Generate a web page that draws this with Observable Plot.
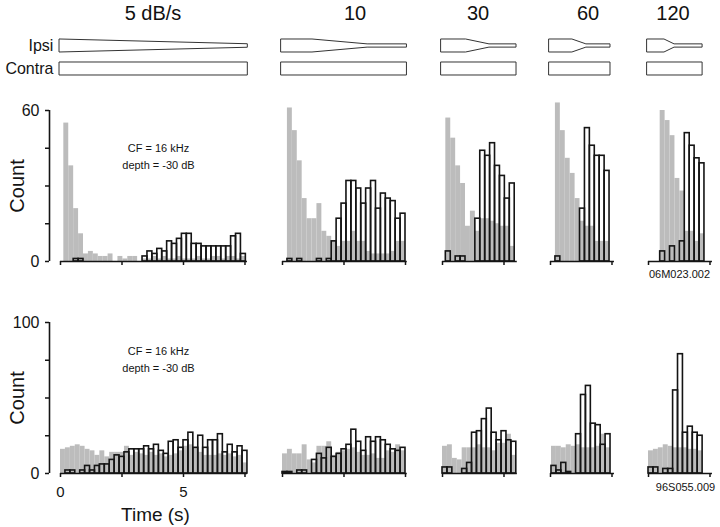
<!DOCTYPE html>
<html>
<head>
<meta charset="utf-8">
<script src="https://cdn.jsdelivr.net/npm/d3@7"></script>
<script src="https://cdn.jsdelivr.net/npm/@observablehq/plot@0.6"></script>
<style>
  html, body { margin: 0; padding: 0; background: #fff; }
  #fig { position: relative; width: 720px; height: 527px; overflow: hidden;
         font-family: "Liberation Sans", Arial, Helvetica, sans-serif; color: #111; }
  #fig > svg { position: absolute; }
  .rate { position: absolute; top: 3px; font-size: 20px; line-height: 20px;
          transform: translateX(-50%); white-space: pre; color: #111; }
</style>
</head>
<body>
<div id="fig"></div>
<script>
// ---------------- data ----------------
const rateLabels = ["5 dB/s", "10", "30", "60", "120"];
const channels = ["Ipsi", "Contra"];
const cfLabel = "CF = 16 kHz\ndepth = -30 dB";
const unitTop = "06M023.002";
const unitBottom = "96S055.009";
const countLabel = "Count";
const timeLabel = "Time (s)";

const binWidth = 0.2;                       // s
const topStart = [0.135, 0.2, 0.135, 0.2, 0.475];
const bottomStart = [0, 0, 0, 0.04, 0];
const axisEnd = [7.6, 5.07, 3.04, 2.6, 2.6];
const timeTicks = [[0, 2.5, 5, 7.5], [0, 2.5, 5], [0, 2.5], [0, 2.5], [0, 2.5]];
const timeTickLabels = [0, 5];
const countTicksTop = [0, 15, 30, 45, 60];
const countTicksBottom = [0, 25, 50, 75, 100];
const countLabelsTop = [0, 60];
const countLabelsBottom = [0, 100];

// top row (unit 06M023.002): grey = filled histogram, open = outlined histogram
const topGray0 = [55, 38, 21, 11, 3, 4, 3, 2, 2, 3, 0, 2, 1, 2, 2, 0, 1, 1, 2, 1, 2, 1, 1, 2, 1, 1, 1, 2, 1, 1, 2, 2, 1, 2, 2, 1, 2];
const topOpen0 = [0, 0, 1, 1, 0, 0, 0, 0, 0, 0, 0, 0, 0, 0, 0, 0, 2, 4, 3, 5, 4, 8, 7, 9, 11, 11, 7, 7, 6, 6, 6, 6, 6, 6, 10, 11, 3];
const topGray1 = [61, 52, 40, 25, 17, 17, 23, 12, 10, 8, 6, 8, 8, 12, 8, 8, 4, 3, 3, 3, 3, 4, 8, 8];
const topOpen1 = [1, 0, 1, 0, 0, 0, 1, 0, 1, 8, 17, 23, 32, 32, 29, 23, 29, 32, 21, 27, 25, 24, 17, 19];
const topGray2 = [57, 49, 38, 31, 14, 20, 12, 17, 17, 16, 15, 14, 14, 6];
const topOpen2 = [4, 0, 2, 2, 0, 0, 17, 44, 42, 47, 38, 34, 25, 31];
const topGray3 = [63, 52, 41, 35, 25, 16, 14, 14, 8, 8, 8];
const topOpen3 = [2, 0, 0, 0, 0, 21, 53, 46, 42, 42, 36];
const topGray4 = [60, 56, 50, 33, 28, 12, 12, 8, 11];
const topOpen4 = [4, 0, 6, 0, 8, 51, 46, 41, 39];

// bottom row (unit 96S055.009)
const bottomGray0 = [16, 17, 18, 19, 18, 16, 15, 12, 15, 11, 14, 14, 14, 18, 12, 14, 13, 12, 14, 12, 13, 11, 12, 13, 15, 18, 19, 17, 14, 12, 12, 12, 13, 12, 13, 11, 12, 7];
const bottomOpen0 = [0, 2, 2, 0, 2, 5, 2, 5, 6, 6, 9, 12, 11, 14, 16, 16, 16, 18, 16, 19, 15, 13, 21, 22, 17, 22, 27, 17, 25, 17, 22, 22, 26, 14, 19, 14, 18, 15];
const bottomGray1 = [13, 16, 13, 13, 19, 9, 7, 18, 18, 21, 12, 14, 15, 16, 17, 14, 12, 12, 13, 10, 10, 15, 14, 19, 15];
const bottomOpen1 = [1, 1, 0, 2, 2, 0, 9, 13, 10, 17, 11, 13, 16, 19, 29, 21, 15, 24, 21, 24, 22, 19, 16, 15, 17];
const bottomGray2 = [18, 19, 10, 9, 17, 17, 17, 19, 17, 17, 15, 20, 20, 26, 12];
const bottomOpen2 = [4, 4, 0, 0, 3, 7, 27, 28, 36, 43, 27, 22, 28, 22, 21];
const bottomGray3 = [18, 18, 17, 19, 18, 19, 17, 17, 17, 18, 26, 17];
const bottomOpen3 = [5, 2, 7, 1, 0, 26, 52, 58, 33, 32, 19, 26];
const bottomGray4 = [15, 16, 17, 19, 18, 17, 17, 17, 16, 16, 15];
const bottomOpen4 = [4, 4, 0, 3, 3, 55, 79, 27, 31, 27, 25];

// stimulus envelopes (time in s, relative amplitude)
const ipsiTimes = [[0, 7.64], [0, 1.26, 3.5, 5.1], [0, 1.0, 1.95, 3.05], [0, 0.93, 1.5, 2.48], [0, 0.69, 1.1, 2.24]];
const ipsiLevels = [[1, 0.27], [1, 1, 0.25, 0.25], [1, 1, 0.25, 0.25], [1, 1, 0.25, 0.25], [1, 1, 0.25, 0.25]];
const contraTimes = [[0, 7.64], [0, 5.1], [0, 3.05], [0, 2.48], [0, 2.24]];
const contraLevels = [[1, 1], [1, 1], [1, 1], [1, 1], [1, 1]];

const topGray = [topGray0, topGray1, topGray2, topGray3, topGray4];
const topOpen = [topOpen0, topOpen1, topOpen2, topOpen3, topOpen4];
const bottomGray = [bottomGray0, bottomGray1, bottomGray2, bottomGray3, bottomGray4];
const bottomOpen = [bottomOpen0, bottomOpen1, bottomOpen2, bottomOpen3, bottomOpen4];

// ---------------- layout ----------------
const FONT = '"Liberation Sans", Arial, Helvetica, sans-serif';
const ink = "#141414";
const grayFill = "#bcbcbc";
const k = 24.6;                                   // px per second
const panelX0 = [60, 281.7, 441.7, 550, 648.3];   // pixel of t = 0
const stimX0 = [59.4, 281, 440.5, 549, 647];
const titleX = [153, 355, 478, 588, 673];

const fig = document.getElementById("fig");

function place(el, left, top) {
  el.style.position = "absolute";
  el.style.left = left + "px";
  el.style.top = top + "px";
  el.style.overflow = "visible";
  el.style.background = "transparent";
  fig.appendChild(el);
}

// titles
rateLabels.forEach((lab, p) => {
  const d = document.createElement("div");
  d.className = "rate";
  d.textContent = lab;
  d.style.left = titleX[p] + "px";
  fig.appendChild(d);
});

// stimulus schematics
function stimPlot(p) {
  const data = [
    ...ipsiTimes[p].map((t, i) => ({channel: "Ipsi", t, a: ipsiLevels[p][i]})),
    ...contraTimes[p].map((t, i) => ({channel: "Contra", t, a: contraLevels[p][i]}))
  ];
  const end = d3.max(data, d => d.t);
  const ml = p === 0 ? stimX0[0] : 6;
  const mr = 6;
  const svg = Plot.plot({
    width: ml + end * k + mr,
    height: 90,
    marginTop: 39, marginBottom: 15, marginLeft: ml, marginRight: mr,
    x: {domain: [0, end], axis: null},
    y: {domain: [-1, 1], axis: null},
    fy: {domain: channels, paddingInner: 0.45, paddingOuter: 0,
         axis: p === 0 ? "left" : null, label: null, tickSize: 0, tickPadding: 6.5},
    facet: {data, y: "channel"},
    style: {fontFamily: FONT, fontSize: "16px", background: "transparent", color: ink},
    marks: [
      Plot.area(data, {x1: "t", y1: d => -d.a, y2: d => d.a, z: "channel",
                       fill: "white", stroke: "#333", strokeWidth: 1})
    ]
  });
  place(svg, stimX0[p] - ml, 0);
}

// histograms
function histPlot(row, p) {
  const isTop = row === 0;
  const ymax = isTop ? 60 : 100;
  const yTicks = isTop ? countTicksTop : countTicksBottom;
  const yLabs = isTop ? countLabelsTop : countLabelsBottom;
  const start = isTop ? topStart[p] : bottomStart[p];
  const toBins = counts => counts.map((c, i) => ({t0: start + i * binWidth, t1: start + (i + 1) * binWidth, c}));
  const grayBins = toBins(isTop ? topGray[p] : bottomGray[p]).filter(d => d.c > 0);
  const openBins = toBins(isTop ? topOpen[p] : bottomOpen[p]).filter(d => d.c > 0);
  const first = p === 0;
  const xmin = first ? -11 / k : 0;
  const ml = first ? 49 : 8;
  const mr = 8;
  const mt = 20, inner = 151, mb = isTop ? 30 : 54;
  const width = ml + (axisEnd[p] - xmin) * k + mr;
  const left = panelX0[p] + xmin * k - ml;
  const top = isTop ? 90 : 302;
  const showX = !isTop && first;

  const marks = [
    Plot.rect(grayBins, {x1: "t0", x2: "t1", y1: 0, y2: "c", fill: grayFill}),
    Plot.rect(openBins, {x1: "t0", x2: "t1", y1: 0, y2: "c", fill: "none", stroke: ink, strokeWidth: 1.6}),
    Plot.ruleY([0], {x1: 0, x2: axisEnd[p], stroke: ink, strokeWidth: 1.6}),
    Plot.axisX({ticks: timeTicks[p], tickSize: 4, tickPadding: 9, strokeWidth: 1.5, color: ink, label: null,
                fontSize: 15,
                tickFormat: showX ? (d => timeTickLabels.includes(d) ? String(d) : "") : (() => "")})
  ];
  if (first) {
    marks.push(
      Plot.ruleX([xmin], {y1: 0, y2: ymax, stroke: ink, strokeWidth: 1.6}),
      Plot.axisY({ticks: yTicks, tickSize: 4, tickPadding: 6, strokeWidth: 1.5, color: ink, label: null,
                  tickFormat: d => yLabs.includes(d) ? String(d) : ""}),
      Plot.text([countLabel], {text: d => d, frameAnchor: "left", textAnchor: "middle", lineAnchor: "middle",
                               rotate: -90, dx: -31.5, fontSize: 20, fill: ink}),
      Plot.text([cfLabel], {text: d => d, frameAnchor: "top", textAnchor: "middle", lineAnchor: "top",
                            dx: 10, dy: isTop ? 29 : 20, fontSize: 11, lineHeight: 1.55, fill: ink})
    );
  }
  if (showX) {
    marks.push(Plot.text([timeLabel], {text: d => d, frameAnchor: "bottom", textAnchor: "middle", lineAnchor: "middle",
                                       dx: 7, dy: 41.5, fontSize: 19, fill: ink}));
  }
  if (p === 4) {
    marks.push(Plot.text([isTop ? unitTop : unitBottom], {text: d => d, frameAnchor: "bottom",
      textAnchor: "middle", lineAnchor: "middle",
      dx: isTop ? -1 : 5, dy: isTop ? 13 : 14, fontSize: 11, fill: ink}));
  }
  const svg = Plot.plot({
    width, height: mt + inner + mb,
    marginTop: mt, marginBottom: mb, marginLeft: ml, marginRight: mr,
    x: {domain: [xmin, axisEnd[p]]},
    y: {domain: [0, ymax], ...(first ? {} : {axis: null})},
    style: {fontFamily: FONT, fontSize: "16px", background: "transparent", color: ink},
    marks
  });
  place(svg, left, top);
}

for (let p = 0; p < 5; p++) {
  stimPlot(p);
  histPlot(0, p);
  histPlot(1, p);
}
</script>
</body>
</html>
